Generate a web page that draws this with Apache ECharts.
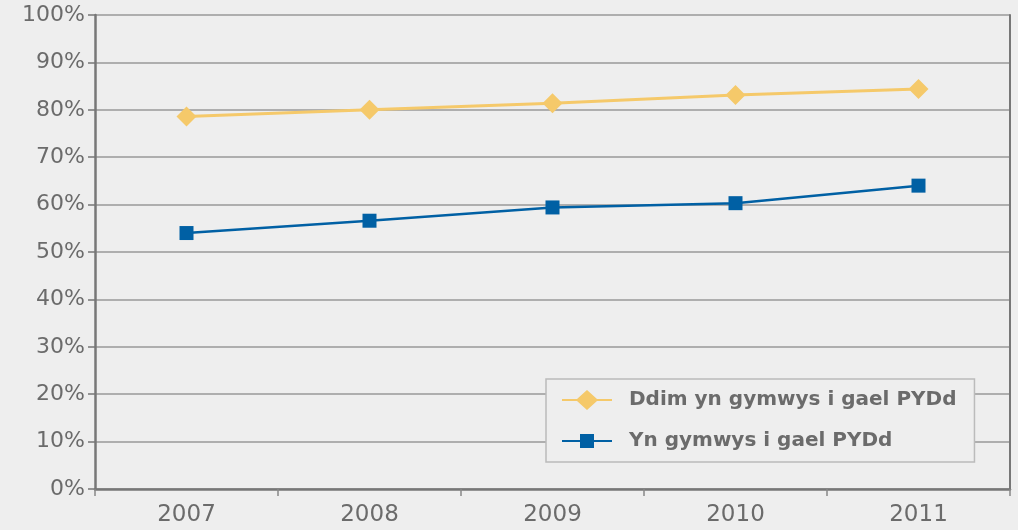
<!DOCTYPE html>
<html><head><meta charset="utf-8">
<script src="https://cdn.jsdelivr.net/npm/echarts@6/dist/echarts.min.js"></script>
<style>html,body{margin:0;padding:0;background:#eeeeee}#c{width:1018px;height:530px}</style>
</head><body><div id="c"></div>
<script>
const categories = ['2007','2008','2009','2010','2011'];
const seriesNames = ['Ddim yn gymwys i gael PYDd','Yn gymwys i gael PYDd'];
const notEligible = [78.6, 80.0, 81.4, 83.1, 84.4];
const eligible = [54.0, 56.6, 59.4, 60.3, 64.0];

const chart = echarts.init(document.getElementById('c'));
const font = '"DejaVu Sans", sans-serif';
const diamondIcon = 'path://M0,9 L15,9 L25,0 L35,9 L50,9 L50,11 L35,11 L25,20 L15,11 L0,11 Z';
const squareIcon = 'path://M0,0 L0.01,0 L0.01,0.01 Z M49.99,19.99 L50,19.99 L50,20 Z M0,9 L18,9 L18,3 L32,3 L32,9 L50,9 L50,11 L32,11 L32,17 L18,17 L18,11 L0,11 Z';
chart.setOption({
  backgroundColor: '#eeeeee',
  animation: false,
  grid: {left: 95, right: 8, top: 15, bottom: 41},
  legend: {
    orient: 'vertical', left: 546, top: 379,
    padding: [11, 18, 11, 16], itemGap: 21,
    backgroundColor: '#eeeeee', borderColor: '#bbbbbb', borderWidth: 1.5,
    itemWidth: 50, itemHeight: 20,
    textStyle: {fontFamily: font, fontSize: 20, fontWeight: 'bold', color: '#6b6b6b', padding:[0,0,0,12]},
    data: [
      {name: seriesNames[0], icon: diamondIcon, itemStyle: {color: '#f5c96a'}},
      {name: seriesNames[1], icon: squareIcon, itemStyle: {color: '#0060a4'}}
    ]
  },
  xAxis: {
    type: 'category', data: categories, boundaryGap: true,
    axisLine: {lineStyle: {color: '#777', width: 2.5}},
    axisTick: {show: true, length: 7, lineStyle: {color: '#888', width: 1.5}},
    axisLabel: {fontFamily: font, fontSize: 23, color: '#6b6b6b', margin: 15}
  },
  yAxis: [{
    type: 'value', min: 0, max: 100, interval: 10,
    axisLine: {show: true, lineStyle: {color: '#777', width: 2.5}},
    axisTick: {show: true, length: 7, lineStyle: {color: '#777', width: 1.5}},
    axisLabel: {fontFamily: font, fontSize: 22, color: '#6b6b6b', margin: 10, formatter: '{value}%'},
    splitLine: {lineStyle: {color: '#999', width: 1.5}}
  }, {
    type: 'value', min: 0, max: 100, interval: 10, position: 'right',
    axisLine: {show: true, lineStyle: {color: '#777', width: 2}},
    axisTick: {show: false}, axisLabel: {show: false}, splitLine: {show: false}
  }],
  series: [{
    name: seriesNames[0], type: 'line', data: notEligible,
    symbol: 'diamond', symbolSize: 20,
    itemStyle: {color: '#f5c96a'}, lineStyle: {color: '#f5c96a', width: 3}
  }, {
    name: seriesNames[1], type: 'line', data: eligible,
    symbol: 'rect', symbolSize: 14,
    itemStyle: {color: '#0060a4'}, lineStyle: {color: '#0060a4', width: 2.5}
  }]
});
</script></body></html>
